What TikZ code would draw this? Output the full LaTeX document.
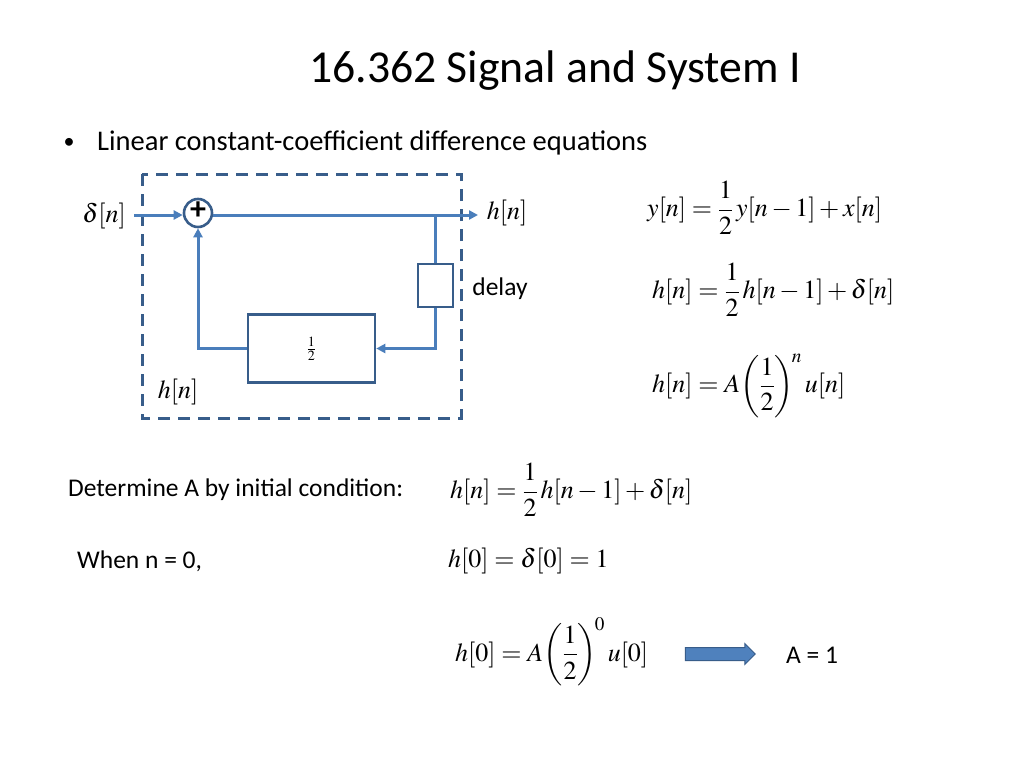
\documentclass[tikz,border=0pt]{standalone}
\usepackage{mathptmx}
\usepackage[no-math]{fontspec}
\setmainfont{Carlito}
\usetikzlibrary{arrows.meta,shapes.arrows}
\definecolor{wireblue}{HTML}{4A7EBB}
\definecolor{darkblue}{HTML}{385D8A}
\definecolor{fillblue}{HTML}{4F81BD}
\tikzset{
  wire/.style={wireblue,line width=3pt},
  arr/.style={wire,-{Triangle[length=9pt,width=9pt]}},
  blk/.style={draw=darkblue,line width=2.6pt,fill=white,inner sep=0pt},
  eq/.style={anchor=west,inner sep=0pt,font=\fontsize{26}{30}\selectfont},
  txt/.style={anchor=west,inner sep=0pt,font=\fontsize{25.5}{30}\selectfont}
}
\begin{document}
\begin{tikzpicture}[x=1pt,y=-1pt]
\useasboundingbox[fill=white] (0,0) rectangle (1024,768);
% title and bullet
\node[inner sep=0pt,font=\fontsize{45.7}{52}\selectfont] (title) at (555,71) {16.362 Signal and System I};
\node[inner sep=0pt,font=\fontsize{22}{26}\selectfont] (bul) at (69,143) {•};
\node[anchor=west,inner sep=0pt,font=\fontsize{28.5}{32}\selectfont] (sub) at (97,143) {Linear constant-coefficient difference equations};
% dashed frame
\draw[darkblue,line width=3pt,dash pattern=on 12pt off 8pt] (142,174) rectangle (461,418);
% block diagram
\node[blk,circle,minimum size=28pt] (sum) at (198,213) {};
\node[inner sep=0pt,font=\fontsize{32}{32}\selectfont\bfseries] (plus) at (198,211) {+};
\node[blk,minimum width=35pt,minimum height=43pt] (delay) at (435.5,285.5) {};
\node[blk,minimum width=127pt,minimum height=68pt,font=\fontsize{19}{22}\selectfont] (half) at (311.5,348.5) {$\frac{1}{2}$};
\node[inner sep=0pt,font=\fontsize{26}{30}\selectfont] (din) at (104,216) {$\delta[n]$};
\node[inner sep=0pt,font=\fontsize{26}{30}\selectfont] (hout) at (507,213) {$h[n]$};
\node[inner sep=0pt,font=\fontsize{25.5}{30}\selectfont] (dl) at (500,289) {delay};
\node[inner sep=0pt,font=\fontsize{26}{30}\selectfont] (hin) at (178,392) {$h[n]$};
\coordinate (inp) at (134,215);
\coordinate (outp) at (478,215);
\coordinate (branch) at (435.5,215);
\draw[arr] (inp) -- (sum.west |- inp);
\draw[arr] (sum.east |- outp) -- (outp);
\draw[wire] (branch) -- (delay.north);
\draw[arr] (delay.south) |- (half.east);
\draw[arr] (half.west) -| (sum.south);
% right equations
\node[eq] (e1) at (647,208) {$\displaystyle y[n]=\frac{1}{2}\,y[n-1]+x[n]$};
\node[eq] (e2) at (652,290) {$\displaystyle h[n]=\frac{1}{2}\,h[n-1]+\delta[n]$};
\node[eq] (e3) at (652,386) {$\displaystyle h[n]=A\!\left(\frac{1}{2}\right)^{\!n}u[n]$};
% bottom
\node[txt] (det) at (68,490) {Determine A by initial condition:};
\node[eq] (e4) at (450,490) {$\displaystyle h[n]=\frac{1}{2}\,h[n-1]+\delta[n]$};
\node[txt] (when) at (77,561) {When n = 0,};
\node[eq] (e5) at (448,561) {$h[0]=\delta[0]=1$};
\node[eq] (e6) at (455,652) {$\displaystyle h[0]=A\!\left(\frac{1}{2}\right)^{\!0}u[0]$};
\node[single arrow,draw=darkblue,fill=fillblue,line width=1pt,inner sep=6pt,
      minimum height=70pt,single arrow head extend=4pt,single arrow head indent=0pt] (bigarr) at (717,654) {};
\node[txt] (a1) at (786,655) {A = 1};
\end{tikzpicture}
\end{document}
